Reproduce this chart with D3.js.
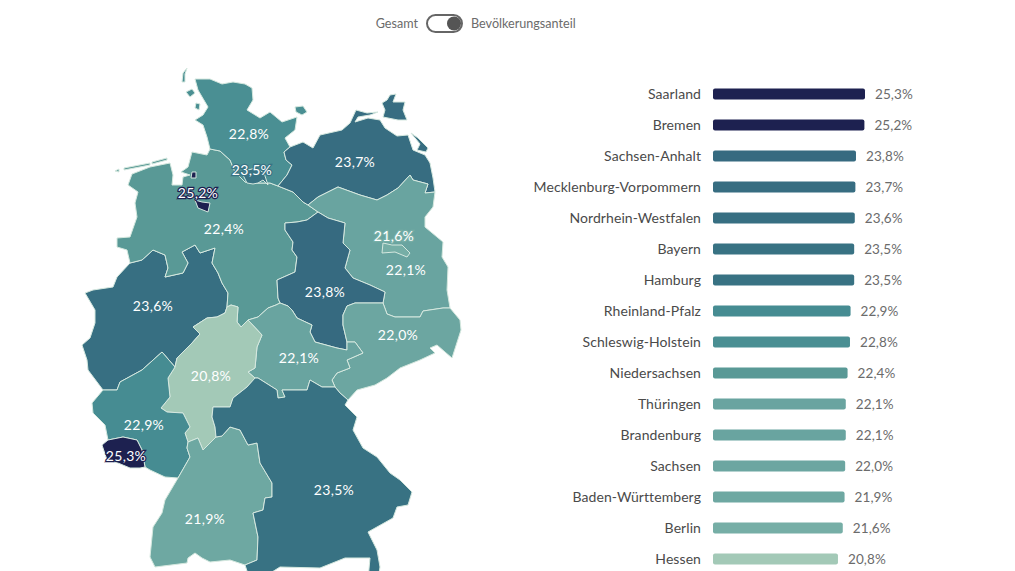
<!DOCTYPE html>
<html>
<head>
<meta charset="utf-8">
<script src="https://cdn.jsdelivr.net/npm/d3@7"></script>
<style>
    html, body { margin: 0; padding: 0; background: #fff; overflow: hidden; }
    text { font-family: "Lato", "Noto Sans", sans-serif; }
    .region { stroke: #d5e8df; stroke-width: 1; stroke-linejoin: round; }
    .mapLabel { fill: #fff; font-size: 14px; letter-spacing: 0.3px; text-anchor: middle; paint-order: stroke; stroke-width: 2.5px; }
    .barName { fill: #4a4a4a; font-size: 14px; letter-spacing: 0.08px; text-anchor: end; }
    .barValue { fill: #6b6b6b; font-size: 13.5px; letter-spacing: 0.1px; }
    .toggleText { fill: #6b6b6b; font-size: 12.6px; }
</style>
</head>
<body>
<svg id="chart" width="1015" height="571"></svg>
<script>
// values, sorted like the bar list
var states = ["Saarland", "Bremen", "Sachsen-Anhalt", "Mecklenburg-Vorpommern", "Nordrhein-Westfalen", "Bayern", "Hamburg", "Rheinland-Pfalz", "Schleswig-Holstein", "Niedersachsen", "Thüringen", "Brandenburg", "Sachsen", "Baden-Württemberg", "Berlin", "Hessen"];
var shares = [25.3, 25.2, 23.8, 23.7, 23.6, 23.5, 23.5, 22.9, 22.8, 22.4, 22.1, 22.1, 22.0, 21.9, 21.6, 20.8];

var colorStops = [20.8, 21.6, 22.1, 22.4, 22.9, 23.5, 23.8, 25.2];
var colorValues = ["#a3c9b7", "#76aea6", "#69a4a0", "#599996", "#468c92", "#387283", "#366a80", "#1d2150"];

var toggleLabels = ["Gesamt", "Bevölkerungsanteil"];

// label anchors as [lon, lat]
var labelAnchors = {
    "Schleswig-Holstein": [10.025, 53.99], "Hamburg": [10.1, 53.45], "Mecklenburg-Vorpommern": [12.675, 53.57],
    "Bremen": [8.75, 53.105], "Niedersachsen": [9.4, 52.565], "Sachsen-Anhalt": [11.925, 51.62],
    "Brandenburg": [13.95, 51.95], "Berlin": [13.65, 52.46], "Nordrhein-Westfalen": [7.625, 51.41],
    "Hessen": [9.075, 50.36], "Thüringen": [11.275, 50.63], "Sachsen": [13.75, 50.975],
    "Rheinland-Pfalz": [7.4, 49.625], "Saarland": [6.95, 49.16], "Baden-Württemberg": [8.925, 48.215], "Bayern": [12.15, 48.65]
};

// borders as [lon, lat] lines, shared between neighbours
var arcs = {
    shCoast: [[9.05,53.765],[8.975,53.945],[8.875,54.125],[8.675,54.2],[8.875,54.275],[9.0,54.395],[8.75,54.65],[8.675,54.815],[9.05,54.815],[9.35,54.74],[9.625,54.77],[9.925,54.74],[10.1,54.68],[10.125,54.5],[9.975,54.35],[10.3,54.23],[10.55,54.32],[10.85,54.17],[11.225,54.245],[11.175,54.05],[10.925,53.93],[11.05,53.795]],
    shMv: [[11.05,53.795],[10.9,53.72],[10.95,53.6],[11.1,53.525],[10.975,53.375],[10.75,53.21]],
    shNs: [[10.75,53.21],[10.55,53.255],[10.225,53.255],[9.925,53.27],[9.675,53.42],[9.55,53.6],[9.3,53.735],[9.05,53.765]],
    nsCoast: [[9.05,53.765],[8.975,53.675],[8.6,53.72],[8.5,53.495],[8.325,53.42],[8.55,53.375],[8.375,53.345],[8.35,53.225],[8.1,53.225],[8.125,53.375],[8.05,53.555],[7.55,53.495],[7.1,53.39],[7.0,53.225],[7.25,53.12],[7.175,52.955],[7.225,52.745],[7.05,52.445],[6.725,52.43],[6.725,52.295],[6.975,52.25],[7.05,52.055]],
    nwNs: [[7.05,52.055],[7.35,52.1],[7.625,52.25],[7.925,52.175],[8.0,51.98],[7.925,51.845],[8.375,51.905],[8.5,52.055],[8.35,52.22],[8.675,52.325],[8.8,52.205],[9.175,52.28],[9.1,52.055],[9.25,51.905],[9.35,51.755],[9.5,51.605],[9.475,51.395]],
    nsHe: [[9.475,51.395],[9.575,51.425],[9.75,51.395],[9.725,51.17],[9.825,51.095],[10.0,51.2]],
    nsTh: [[10.0,51.2],[10.25,51.245],[10.5,51.38],[10.7,51.425],[10.8,51.455]],
    nsSt: [[10.8,51.455],[10.75,51.53],[10.725,51.8],[11.175,51.92],[11.225,52.145],[11.1,52.25],[11.125,52.37],[10.925,52.55],[10.925,52.655],[11.225,52.67],[11.475,52.7],[11.75,52.82]],
    nsBb: [[11.75,52.82],[11.5,52.925]],
    nsMv: [[11.5,52.925],[11.375,52.97],[11.125,53.12],[10.75,53.21]],
    mvCoast: [[11.05,53.795],[11.375,53.87],[11.625,53.78],[11.8,53.975],[12.35,54.05],[12.55,54.155],[12.7,54.35],[12.975,54.305],[13.25,54.32],[13.05,54.275],[12.75,54.245],[12.675,54.17],[13.0,54.23],[13.3,54.2],[13.425,54.08],[13.725,53.96],[14.0,53.975],[14.125,53.75],[14.425,53.675],[14.55,53.555],[14.625,53.33],[14.675,53.12]],
    mvBb: [[14.675,53.12],[14.425,53.105],[14.5,53.24],[14.125,53.3],[14.05,53.375],[13.75,53.18],[13.475,53.075],[13.225,53.0],[12.8,53.075],[12.25,53.195],[11.75,53.045],[11.5,52.925]],
    bbEast: [[14.675,53.12],[14.625,52.895],[14.425,52.745],[14.425,52.595],[14.875,52.37],[14.85,52.145],[15.0,51.995],[14.975,51.65],[15.05,51.38]],
    bbSn: [[15.05,51.38],[14.875,51.38],[14.375,51.335],[14.3,51.245],[13.675,51.245],[13.475,51.29],[13.375,51.455]],
    stBb: [[13.375,51.455],[13.425,51.62],[13.05,51.725],[12.625,51.83],[12.425,51.98],[12.55,52.25],[12.375,52.355],[12.425,52.655],[12.0,52.73],[11.75,52.82]],
    stSn: [[13.375,51.455],[13.125,51.455],[12.675,51.455],[12.475,51.41],[12.375,51.275],[12.375,51.125],[12.475,50.87]],
    stTh: [[12.475,50.87],[12.475,50.75],[12.225,50.78],[11.675,50.87],[11.55,51.02],[11.6,51.125],[11.225,51.23],[11.1,51.35],[11.0,51.41],[10.8,51.455]],
    snEast: [[15.05,51.38],[15.3,51.2],[15.325,51.05],[15.1,50.63],[14.925,50.72],[14.725,50.825],[14.55,50.78],[14.675,50.705],[14.3,50.6],[13.8,50.48],[13.475,50.33],[13.175,50.225],[12.725,50.15],[12.5,50.0]],
    snBy: [[12.5,50.0],[12.3,50.105],[12.175,50.195]],
    snTh: [[12.175,50.195],[12.1,50.3],[12.225,50.405],[12.55,50.48],[12.475,50.6],[12.875,50.705],[12.675,50.87],[12.475,50.87]],
    thBy: [[12.175,50.195],[11.85,50.195],[11.55,50.3],[11.475,50.15],[11.125,50.15],[10.85,50.15],[10.925,50.045],[10.75,50.03],[10.725,50.15],[10.25,50.33],[10.175,50.33]],
    heTh: [[10.175,50.33],[10.0,50.42],[10.175,50.48],[10.225,50.795],[10.35,50.975],[10.0,51.2]],
    heBy: [[10.175,50.33],[9.975,50.195],[9.625,50.03],[9.55,49.895],[9.125,49.895],[9.1,49.745],[9.175,49.595],[9.2,49.445]],
    heBw: [[9.2,49.445],[9.0,49.325],[8.875,49.25],[8.75,49.43],[8.5,49.37]],
    heRp: [[8.5,49.37],[8.425,49.505],[8.55,49.595],[8.375,49.805],[7.975,49.82],[7.825,49.88],[8.05,50.045],[8.0,50.33],[8.175,50.495]],
    heNw: [[8.175,50.495],[8.225,50.63],[8.6,50.855],[8.8,50.99],[8.625,51.095],[8.975,51.23],[9.225,51.245],[9.425,51.305],[9.475,51.395]],
    nwRp: [[8.175,50.495],[7.85,50.72],[7.35,50.45],[6.8,50.27],[6.725,50.15],[6.375,50.15]],
    nwWest: [[6.375,50.15],[6.0,50.45],[5.975,50.6],[5.85,50.825],[6.05,50.93],[6.175,51.155],[6.175,51.35],[5.925,51.605],[6.125,51.65],[6.625,51.695],[6.725,51.845],[7.05,52.055]],
    rpWest: [[6.375,50.15],[6.1,49.955],[6.125,49.805],[6.425,49.625],[6.5,49.4]],
    rpSl: [[6.5,49.4],[6.875,49.445],[7.225,49.4],[7.35,49.25],[7.425,48.995]],
    rpSouth: [[7.425,48.995],[7.55,48.95],[7.925,48.845],[8.25,48.83]],
    rpBw: [[8.25,48.83],[8.55,49.145],[8.475,49.28],[8.5,49.37]],
    slWest: [[7.425,48.995],[7.3,48.98],[7.05,48.98],[6.75,49.055],[6.475,49.1],[6.35,49.325],[6.5,49.4]],
    bwBy: [[9.2,49.445],[9.35,49.46],[9.55,49.595],[9.8,49.55],[10.0,49.325],[10.225,49.355],[10.3,49.055],[10.6,48.755],[10.6,48.545],[10.425,48.53],[10.375,48.35],[10.125,48.305],[10.25,47.945],[10.225,47.6],[9.925,47.525]],
    bwSouth: [[9.925,47.525],[9.55,47.6],[9.05,47.57],[8.85,47.63],[8.675,47.705],[8.5,47.63],[8.475,47.555],[7.675,47.495],[7.55,47.645],[7.6,47.945],[7.625,48.095],[7.85,48.305],[7.925,48.5],[8.25,48.83]],
    byEast: [[12.5,50.0],[12.425,49.925],[12.725,49.745],[12.625,49.55],[12.875,49.28],[13.225,49.145],[13.55,48.905],[13.8,48.8],[14.1,48.62],[14.0,48.425],[13.725,48.395],[13.625,48.23],[13.0,48.02],[13.225,47.75],[13.3,47.495],[13.25,47.3],[13.0,47.3],[13.05,47.63],[12.425,47.63],[11.8,47.48],[10.8,47.495],[10.6,47.42],[10.05,47.3],[9.925,47.525]]
};

// arc names per state, a leading "-" walks the arc backwards
var stateArcs = {
    "Schleswig-Holstein": ["shCoast", "shMv", "shNs"],
    "Niedersachsen": ["nsCoast", "nwNs", "nsHe", "nsTh", "nsSt", "nsBb", "nsMv", "shNs"],
    "Mecklenburg-Vorpommern": ["mvCoast", "mvBb", "nsMv", "-shMv"],
    "Brandenburg": ["-mvBb", "bbEast", "bbSn", "stBb", "nsBb"],
    "Sachsen-Anhalt": ["nsSt", "-stBb", "stSn", "stTh"],
    "Sachsen": ["-bbSn", "snEast", "snBy", "snTh", "-stSn"],
    "Thüringen": ["nsTh", "-stTh", "-snTh", "thBy", "heTh"],
    "Hessen": ["nsHe", "-heTh", "heBy", "heBw", "heRp", "heNw"],
    "Nordrhein-Westfalen": ["nwNs", "-heNw", "nwRp", "nwWest"],
    "Rheinland-Pfalz": ["nwRp", "rpWest", "rpSl", "rpSouth", "rpBw", "heRp"],
    "Saarland": ["rpSl", "slWest"],
    "Baden-Württemberg": ["-heBw", "bwBy", "bwSouth", "rpBw"],
    "Bayern": ["-thBy", "-snBy", "byEast", "-bwBy", "-heBy"]
};

// city states and islands as plain rings
var extraRings = {
    "Hamburg": [[[9.875,53.375],[9.975,53.255],[10.125,53.24],[10.25,53.255],[10.375,53.3],[10.5,53.225],[10.4,53.405],[10.2,53.48],[10.0,53.45]]],
    "Bremen": [[[8.675,53.0],[8.75,52.88],[9.0,52.82],[9.05,52.955],[8.85,52.97]], [[8.6,53.42],[8.7,53.42],[8.7,53.33],[8.575,53.33]]],
    "Berlin": [[[13.375,52.355],[13.6,52.325],[13.85,52.325],[14.05,52.205],[13.975,52.145],[13.675,52.22],[13.35,52.205]]],
    "Mecklenburg-Vorpommern": [[[13.35,54.455],[13.475,54.5],[13.55,54.575],[13.7,54.59],[13.625,54.47],[13.925,54.47],[13.875,54.35],[13.975,54.2],[13.75,54.2],[13.375,54.245],[13.425,54.35]], [[14.075,54.005],[14.25,53.93],[14.5,53.78],[14.45,53.72],[14.225,53.75],[14.3,53.84]]],
    "Schleswig-Holstein": [[[11.175,54.395],[11.375,54.41],[11.475,54.32],[11.35,54.275],[11.2,54.32]], [[8.45,54.62],[8.6,54.665],[8.675,54.605],[8.55,54.545]], [[8.475,54.98],[8.375,54.905],[8.35,54.77],[8.425,54.77],[8.425,54.89]], [[8.7,54.455],[8.8,54.44],[8.775,54.35],[8.675,54.38]]],
    "Niedersachsen": [[[6.675,53.435],[6.775,53.465],[6.775,53.42]], [[6.9,53.48],[7.55,53.555],[7.55,53.525],[6.9,53.45]], [[7.6,53.57],[7.975,53.63],[7.975,53.6],[7.6,53.54]]]
};

var drawOrder = ["Nordrhein-Westfalen", "Niedersachsen", "Schleswig-Holstein", "Mecklenburg-Vorpommern", "Brandenburg", "Sachsen-Anhalt", "Sachsen", "Thüringen", "Hessen", "Rheinland-Pfalz", "Saarland", "Baden-Württemberg", "Bayern", "Hamburg", "Bremen", "Berlin"];

var svg = d3.select("#chart");

var color = d3.scaleLinear().domain(colorStops).range(colorValues).clamp(true);

function shareOf(name) {
    return shares[states.indexOf(name)];
}

// the map is a plain lon/lat plot, stretched to the size of the original
var lonScale = d3.scaleLinear().domain([3.8, 29.175]).range([0, 1015]);
var latScale = d3.scaleLinear().domain([56, 47.435]).range([0, 571]);
var projection = d3.geoTransform({
    point: function (lon, lat) {
        this.stream.point(lonScale(lon), latScale(lat));
    }
});
var path = d3.geoPath(projection);

function arcPoints(name) {
    if (name.charAt(0) === "-") {
        return arcs[name.slice(1)].slice().reverse();
    }
    return arcs[name];
}

// rings are stitched together so that each arc starts where the last one stopped
function buildRing(names) {
    var ring = [];
    names.forEach(function (name) {
        var pts = arcPoints(name);
        if (ring.length) {
            var last = ring[ring.length - 1];
            if (last[0] !== pts[0][0] || last[1] !== pts[0][1]) {
                pts = pts.slice().reverse();
            }
        }
        ring = ring.concat(pts);
    });
    return ring;
}

function stateFeature(name) {
    var rings = [];
    if (stateArcs[name]) {
        rings.push(buildRing(stateArcs[name]));
    }
    rings = rings.concat(extraRings[name] || []);
    return {
        type: "Feature",
        properties: { name: name },
        geometry: { type: "MultiPolygon", coordinates: rings.map(function (r) { return [r.concat([r[0]])]; }) }
    };
}

var mapGroup = svg.append("g").attr("class", "map");

mapGroup.selectAll("path")
    .data(drawOrder.map(stateFeature))
    .enter()
    .append("path")
    .attr("class", "region")
    .attr("d", path)
    .attr("fill", function (d) { return color(shareOf(d.properties.name)); });

function pct(v) {
    return d3.format(".1f")(v).replace(".", ",") + "%";
}

mapGroup.selectAll("text")
    .data(states)
    .enter()
    .append("text")
    .attr("class", "mapLabel")
    .attr("x", function (d) { return lonScale(labelAnchors[d][0]); })
    .attr("y", function (d) { return latScale(labelAnchors[d][1]); })
    .attr("dy", "0.35em")
    .attr("stroke", function (d) { return color(shareOf(d)); })
    .text(function (d) { return pct(shareOf(d)); });

// bars
var barX = d3.scaleLinear().domain([0, 25.3]).range([713, 865]);
var barY = d3.scalePoint().domain(states).range([94, 559]);
var barHeight = 11;

var rows = svg.append("g")
    .selectAll("g")
    .data(states)
    .enter()
    .append("g")
    .attr("transform", function (d) { return "translate(0," + barY(d) + ")"; });

rows.append("rect")
    .attr("x", barX(0))
    .attr("y", -barHeight / 2)
    .attr("width", function (d) { return barX(shareOf(d)) - barX(0); })
    .attr("height", barHeight)
    .attr("rx", 2)
    .attr("fill", function (d) { return color(shareOf(d)); });

rows.append("text")
    .attr("class", "barName")
    .attr("x", barX(0) - 12)
    .attr("dy", "0.35em")
    .text(function (d) { return d; });

rows.append("text")
    .attr("class", "barValue")
    .attr("x", function (d) { return barX(shareOf(d)) + 10; })
    .attr("dy", "0.35em")
    .text(function (d) { return pct(shareOf(d)); });

// switch on top
var toggle = svg.append("g");

toggle.append("rect")
    .attr("x", 427)
    .attr("y", 15)
    .attr("width", 35)
    .attr("height", 17)
    .attr("rx", 8.5)
    .attr("fill", "#fff")
    .attr("stroke", "#666")
    .attr("stroke-width", 2);

toggle.append("circle")
    .attr("cx", 454)
    .attr("cy", 23.5)
    .attr("r", 7)
    .attr("fill", "#555");

toggle.append("text")
    .attr("class", "toggleText")
    .attr("x", 418)
    .attr("y", 23.5)
    .attr("dy", "0.35em")
    .attr("text-anchor", "end")
    .text(toggleLabels[0]);

toggle.append("text")
    .attr("class", "toggleText")
    .attr("x", 471)
    .attr("y", 23.5)
    .attr("dy", "0.35em")
    .text(toggleLabels[1]);
</script>
</body>
</html>
